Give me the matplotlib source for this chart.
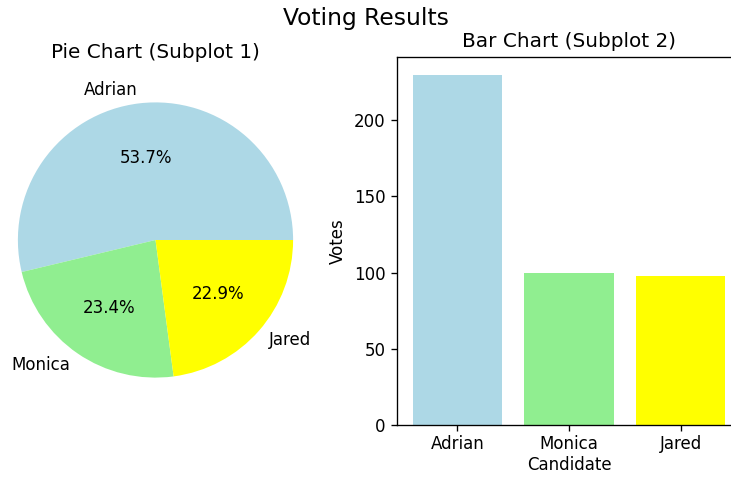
import matplotlib
matplotlib.use("Agg")
import matplotlib.pyplot as plt

candidates = ["Adrian", "Monica", "Jared"]
votes = [230, 100, 98]
colors = ["lightblue", "lightgreen", "yellow"]

DPI = 120
fig = plt.figure(figsize=(731 / DPI, 477 / DPI), dpi=DPI)

W, H = 731, 477

def px_axes(left, top, right, bottom):
    return fig.add_axes([left / W, 1 - bottom / H, (right - left) / W, (bottom - top) / H])

# Pie chart on the left
ax1 = px_axes(-16.5, 68, 327.5, 412)
ax1.pie(votes, labels=candidates, colors=colors, autopct="%1.1f%%")
ax1.set_title("Pie Chart (Subplot 1)")

# Bar chart on the right
ax2 = px_axes(397, 57, 741, 425)
ax2.bar(candidates, votes, color=colors)
ax2.set_title("Bar Chart (Subplot 2)")
ax2.tick_params(axis="x", pad=2.5)
ax2.set_xlabel("Candidate", labelpad=1.5)
ax2.set_ylabel("Votes")

fig.suptitle("Voting Results", fontsize=14, y=1 - 18 / H, va="center")

fig.savefig("out.png", dpi=DPI)
